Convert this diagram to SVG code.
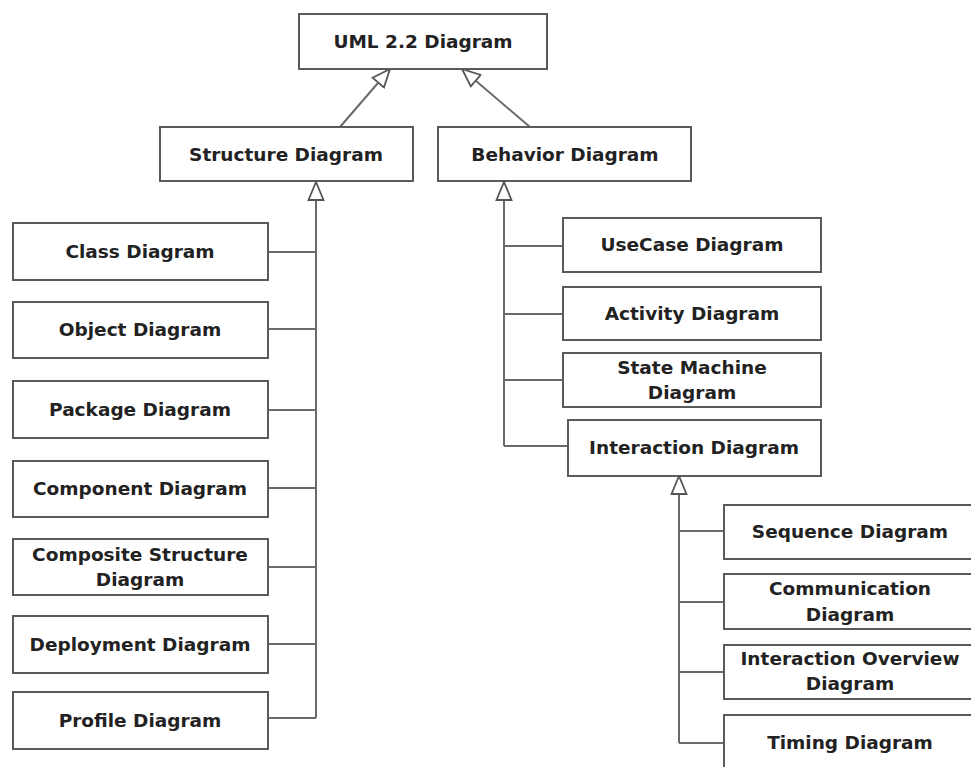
<svg xmlns="http://www.w3.org/2000/svg" width="971" height="767" viewBox="0 0 971 767">
<style>
.box{fill:#fff;stroke:#5a5a5a;stroke-width:2}
.t{font-family:"DejaVu Sans",Verdana,sans-serif;font-weight:bold;font-size:18.5px;fill:#222;text-anchor:middle}
.c{fill:none;stroke:#6a6a6a;stroke-width:2}
</style>
<defs>
<marker id="gen" markerUnits="userSpaceOnUse" viewBox="0 0 20 18" markerWidth="20" markerHeight="18" refX="19" refY="9" orient="auto">
<path d="M1,1.5 L19,9 L1,16.5 Z" fill="#fff" stroke="#555" stroke-width="1.8"/>
</marker>
</defs>
<rect width="971" height="767" fill="#fff"/>
<g id="connectors">
<path class="c" d="M340,127 L390,69" marker-end="url(#gen)"/>
<path class="c" d="M530,127 L462,69" marker-end="url(#gen)"/>
<path class="c" d="M316,718 L316,182" marker-end="url(#gen)"/>
<path class="c" d="M268,252 H316 M268,329 H316 M268,410 H316 M268,488 H316 M268,567 H316 M268,644 H316 M268,718 H316"/>
<path class="c" d="M504,446 L504,182" marker-end="url(#gen)"/>
<path class="c" d="M504,246 H563 M504,314 H563 M504,380 H563 M504,446 H568"/>
<path class="c" d="M679,743 L679,476" marker-end="url(#gen)"/>
<path class="c" d="M679,531 H724 M679,602 H724 M679,672 H724 M679,743 H724"/>
</g>
<g id="uml"><rect class="box" x="299" y="14" width="248" height="55"/><text class="t" x="423" y="48">UML 2.2 Diagram</text></g>
<g id="structure"><rect class="box" x="160" y="127" width="253" height="54"/><text class="t" x="286" y="161">Structure Diagram</text></g>
<g id="behavior"><rect class="box" x="438" y="127" width="253" height="54"/><text class="t" x="565" y="161">Behavior Diagram</text></g>
<g id="class"><rect class="box" x="13" y="223" width="255" height="57"/><text class="t" x="140" y="258">Class Diagram</text></g>
<g id="object"><rect class="box" x="13" y="302" width="255" height="56"/><text class="t" x="140" y="336">Object Diagram</text></g>
<g id="package"><rect class="box" x="13" y="381" width="255" height="57"/><text class="t" x="140" y="416">Package Diagram</text></g>
<g id="component"><rect class="box" x="13" y="461" width="255" height="56"/><text class="t" x="140" y="495">Component Diagram</text></g>
<g id="composite"><rect class="box" x="13" y="539" width="255" height="56"/><text class="t" x="140" y="561">Composite Structure</text><text class="t" x="140" y="586">Diagram</text></g>
<g id="deployment"><rect class="box" x="13" y="616" width="255" height="57"/><text class="t" x="140" y="651">Deployment Diagram</text></g>
<g id="profile"><rect class="box" x="13" y="692" width="255" height="57"/><text class="t" x="140" y="727">Profile Diagram</text></g>
<g id="usecase"><rect class="box" x="563" y="218" width="258" height="54"/><text class="t" x="692" y="251">UseCase Diagram</text></g>
<g id="activity"><rect class="box" x="563" y="287" width="258" height="53"/><text class="t" x="692" y="320">Activity Diagram</text></g>
<g id="statemachine"><rect class="box" x="563" y="353" width="258" height="54"/><text class="t" x="692" y="374">State Machine</text><text class="t" x="692" y="399">Diagram</text></g>
<g id="interaction"><rect class="box" x="568" y="420" width="253" height="56"/><text class="t" x="694" y="454">Interaction Diagram</text></g>
<g id="sequence"><rect class="box" x="724" y="505" width="252" height="54"/><text class="t" x="850" y="538">Sequence Diagram</text></g>
<g id="communication"><rect class="box" x="724" y="574" width="252" height="55"/><text class="t" x="850" y="595">Communication</text><text class="t" x="850" y="621">Diagram</text></g>
<g id="interactionoverview"><rect class="box" x="724" y="645" width="252" height="54"/><text class="t" x="850" y="665">Interaction Overview</text><text class="t" x="850" y="690">Diagram</text></g>
<g id="timing"><rect class="box" x="724" y="715" width="252" height="60"/><text class="t" x="850" y="749">Timing Diagram</text></g>
</svg>
